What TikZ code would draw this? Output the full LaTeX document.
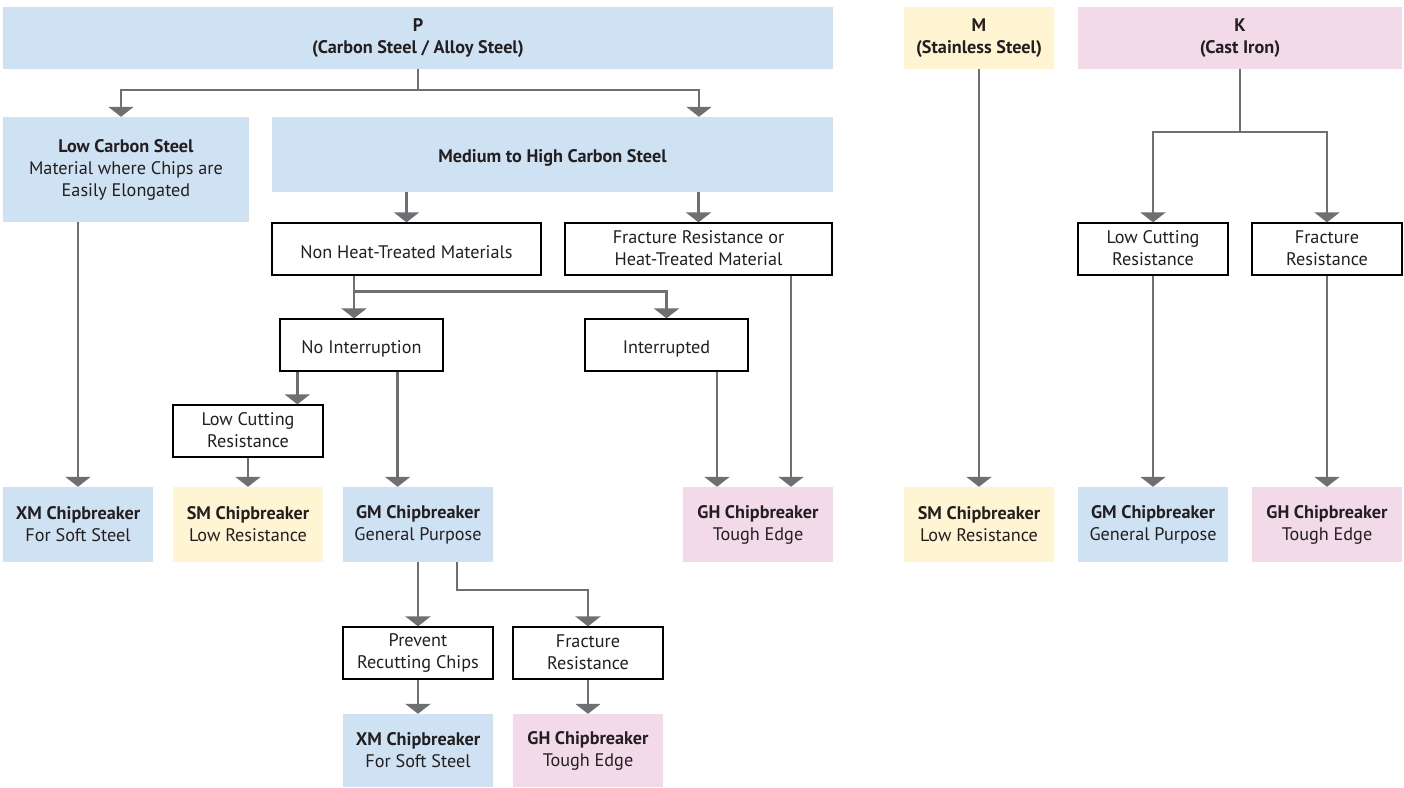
\documentclass[tikz,border=0pt]{standalone}
\usepackage{fontspec}
\setmainfont{PT Sans}
\usetikzlibrary{arrows.meta,calc}

\definecolor{pblue}{RGB}{207,226,243}
\definecolor{myellow}{RGB}{255,245,210}
\definecolor{kpink}{RGB}{242,218,232}
\definecolor{linegray}{RGB}{110,111,114}
\definecolor{ink}{RGB}{35,31,32}

\tikzset{
  box/.style={align=center,inner sep=0pt,text=ink,font=\fontsize{18.2}{22}\selectfont,
    execute at begin node={\rule{0pt}{20.6pt}},execute at end node={\rule[-1.4pt]{0pt}{1.4pt}}},
  head/.style={box,minimum height=62pt},
  sel/.style={box,minimum width=150pt,minimum height=75pt},
  cond/.style={box,draw=black,line width=1.3pt,fill=white,minimum width=150pt,minimum height=52pt},
  wire/.style={draw=linegray,line width=2.5pt},
  link/.style={wire,-{Triangle[width=25pt,length=10pt]}}
}

\begin{document}
\begin{tikzpicture}[x=1pt,y=1pt]
  \useasboundingbox (0,0) rectangle (1404,-787);

  % material groups
  \node[head,fill=pblue,minimum width=830pt] (P) at (418,-38) {\textbf{P}\\\textbf{(Carbon Steel / Alloy Steel)}};
  \node[head,fill=myellow,minimum width=150pt] (M) at (979,-38) {\textbf{M}\\\textbf{(Stainless Steel)}};
  \node[head,fill=kpink,minimum width=324pt] (K) at (1240,-38) {\textbf{K}\\\textbf{(Cast Iron)}};

  \node[box,fill=pblue,minimum width=246pt,minimum height=105pt] (lowc) at (126,-169.5) {\textbf{Low Carbon Steel}\\Material where Chips are\\Easily Elongated};
  \node[box,fill=pblue,minimum width=561pt,minimum height=75pt] (medhi) at (552.5,-154.5) {\textbf{Medium to High Carbon Steel}};

  % conditions
  \node[cond,minimum width=269pt] (nonheat) at (406.5,-249) {Non Heat-Treated Materials};
  \node[cond,minimum width=267pt] (heattr) at (698.5,-249) {Fracture Resistance or\\Heat-Treated Material};
  \node[cond,minimum width=163pt] (noint) at (361.5,-345) {No Interruption};
  \node[cond,minimum width=163pt] (interr) at (666.5,-345) {Interrupted};
  \node[cond] (lowcutP) at (248,-431) {Low Cutting\\Resistance};
  \node[cond] (prevent) at (418,-653) {Prevent\\Recutting Chips};
  \node[cond] (fracP) at (588,-653) {Fracture\\Resistance};
  \node[cond] (lowcutK) at (1153,-249) {Low Cutting\\Resistance};
  \node[cond] (fracK) at (1327,-249) {Fracture\\Resistance};

  % chipbreakers
  \node[sel,fill=pblue] (xm1) at (78,-524.5) {\textbf{XM Chipbreaker}\\For Soft Steel};
  \node[sel,fill=myellow] (sm1) at (248,-524.5) {\textbf{SM Chipbreaker}\\Low Resistance};
  \node[sel,fill=pblue] (gm1) at (418,-524.5) {\textbf{GM Chipbreaker}\\General Purpose};
  \node[sel,fill=kpink] (gh1) at (758,-524.5) {\textbf{GH Chipbreaker}\\Tough Edge};
  \node[sel,fill=pblue,minimum height=73pt] (xm2) at (418,-750.5) {\textbf{XM Chipbreaker}\\For Soft Steel};
  \node[sel,fill=kpink,minimum height=73pt] (gh2) at (588,-750.5) {\textbf{GH Chipbreaker}\\Tough Edge};
  \node[sel,fill=myellow] (sm2) at (979,-524.5) {\textbf{SM Chipbreaker}\\Low Resistance};
  \node[sel,fill=pblue] (gm2) at (1153,-524.5) {\textbf{GM Chipbreaker}\\General Purpose};
  \node[sel,fill=kpink] (gh3) at (1327,-524.5) {\textbf{GH Chipbreaker}\\Tough Edge};

  % P tree
  \draw[wire] (P.south) -- ++(0,-21) coordinate (pfork);
  \draw[link] (pfork) -| ([xshift=-5pt]lowc.north);
  \draw[link] (pfork) -| ([xshift=146.5pt]medhi.north);
  \draw[link] (medhi.south -| nonheat.north) -- (nonheat.north);
  \draw[link] (medhi.south -| heattr.north) -- (heattr.north);
  \draw[wire] ([xshift=-52.5pt]nonheat.south) -- ++(0,-16) coordinate (nfork);
  \draw[link] (nfork) -- (nfork |- noint.north);
  \draw[link] (nfork) -| (interr.north);
  \draw[link] ([xshift=18pt]noint.south west) coordinate (n1) -- (n1 |- lowcutP.north);
  \draw[link] ([xshift=-46pt]noint.south east) coordinate (n2) -- (n2 |- gm1.north);
  \draw[link] (lowc.south -| xm1.north) -- (xm1.north);
  \draw[link] (lowcutP) -- (sm1);
  \draw[link] ([xshift=50.5pt]interr.south) coordinate (i1) -- (i1 |- gh1.north);
  \draw[link] ([xshift=92.5pt]heattr.south) coordinate (h1) -- (h1 |- gh1.north);
  \draw[link] (gm1) -- (prevent);
  \draw[link] ([xshift=39pt]gm1.south) -- ++(0,-28) -| (fracP.north);
  \draw[link] (prevent) -- (xm2);
  \draw[link] (fracP) -- (gh2);

  % M tree
  \draw[link] (M) -- (sm2);

  % K tree
  \draw[wire] (K.south) -- ++(0,-63) coordinate (kfork);
  \draw[link] (kfork) -| (lowcutK.north);
  \draw[link] (kfork) -| (fracK.north);
  \draw[link] (lowcutK) -- (gm2);
  \draw[link] (fracK) -- (gh3);
\end{tikzpicture}
\end{document}
